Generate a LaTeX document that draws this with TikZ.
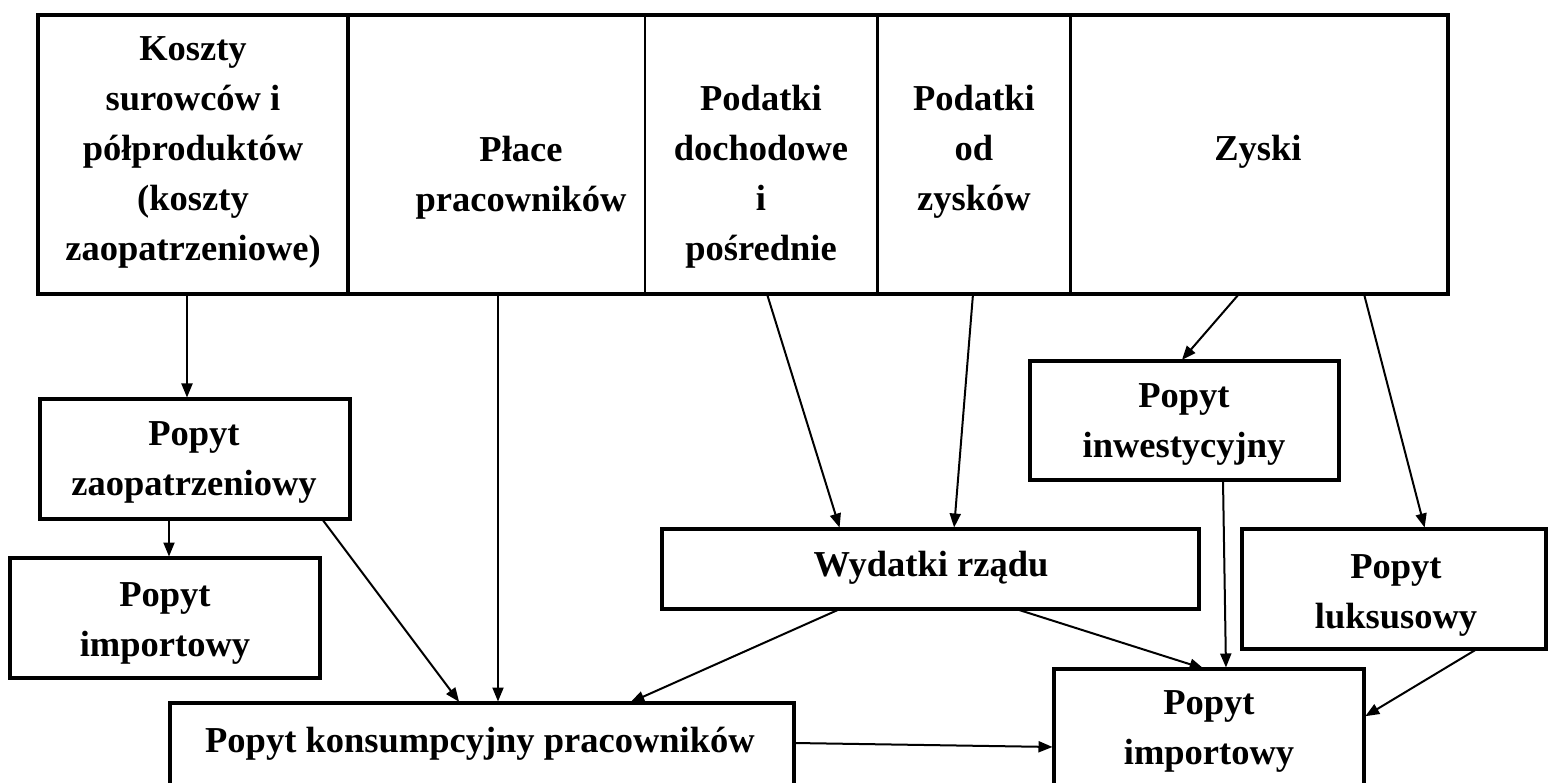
\documentclass[tikz,border=0pt]{standalone}
\usepackage{fontspec}
\setmainfont{Liberation Serif}
\usetikzlibrary{arrows.meta}
\begin{document}
\begin{tikzpicture}[x=1pt,y=-1pt,
  cell/.style={rectangle, inner sep=0pt, outer sep=0pt},
  box/.style={cell, draw, line width=3.5pt},
  txt/.style={align=center, inner sep=0pt,
    font=\fontsize{36.5}{50}\selectfont\bfseries},
  link/.style={line width=2pt, -{Triangle[length=14pt,width=11pt]}, shorten >=1.5pt}]
\useasboundingbox (0,0) rectangle (1548,783);
\fill[white] (0,0) rectangle (1548,783);
\clip (0,0) rectangle (1548,783);

% top row: cost and income components
\node[cell, minimum width=310pt, minimum height=279pt] (koszty) at (193,154.5) {};
\node[cell, minimum width=297pt, minimum height=279pt] (place)  at (496.5,154.5) {};
\node[cell, minimum width=232pt, minimum height=279pt] (podd)   at (761,154.5) {};
\node[cell, minimum width=193pt, minimum height=279pt] (podz)   at (973.5,154.5) {};
\node[cell, minimum width=378pt, minimum height=279pt] (zyski)  at (1259,154.5) {};
\draw[line width=3.5pt] (koszty.north west) rectangle (zyski.south east);
\draw[line width=4pt]   (koszty.north east) -- (koszty.south east);
\draw[line width=1.5pt] (place.north east) -- (place.south east);
\draw[line width=3pt]   (podd.north east) -- (podd.south east);
\draw[line width=3pt]   (podz.north east) -- (podz.south east);

\node[txt] (koszty-t) at (193,152) {Koszty\\surowców i\\półproduktów\\(koszty\\zaopatrzeniowe)};
\node[txt] (place-t)  at (521,178) {Płace\\pracowników};
\node[txt] (podd-t)   at (761,177) {Podatki\\dochodowe\\i\\pośrednie};
\node[txt] (podz-t)   at (974,152) {Podatki\\od\\zysków};
\node[txt] (zyski-t)  at (1258,152) {Zyski};

% demand boxes
\node[box, minimum width=310pt, minimum height=120pt] (zaop) at (195,459) {};
\node[txt] at (194,462) {Popyt\\zaopatrzeniowy};
\node[box, minimum width=310pt, minimum height=120pt] (impL) at (165,618) {};
\node[txt] at (165,623) {Popyt\\importowy};
\node[box, minimum width=624pt, minimum height=117pt] (kons) at (482,761.5) {};
\node[txt] at (480,744) {Popyt konsumpcyjny pracowników};
\node[box, minimum width=537pt, minimum height=80pt] (wyd) at (930.5,569) {};
\node[txt] at (931,568) {Wydatki rządu};
\node[box, minimum width=309pt, minimum height=119pt] (inw) at (1184.5,420.5) {};
\node[txt] at (1184,424) {Popyt\\inwestycyjny};
\node[box, minimum width=304pt, minimum height=120pt] (luks) at (1394,589) {};
\node[txt] at (1396,595) {Popyt\\luksusowy};
\node[box, minimum width=310pt, minimum height=151pt] (impR) at (1209,744.5) {};
\node[txt] at (1209,731) {Popyt\\importowy};

% flows
\draw[link] ([xshift=-6pt]koszty.south) -- ([xshift=-8pt]zaop.north);
\draw[link] ([xshift=1.5pt]place.south) -- ([xshift=16pt]kons.north);
\draw[link] ([xshift=-26pt]zaop.south) -- ([xshift=4pt]impL.north);
\draw[link] ([xshift=127pt]zaop.south) -- ([xshift=-22pt]kons.north);
\draw[link] ([xshift=6pt]podd.south) -- ([xshift=-90.5pt]wyd.north);
\draw[link] ([xshift=-0.5pt]podz.south) -- ([xshift=23.5pt]wyd.north);
\draw[link] ([xshift=-20pt]zyski.south) -- ([xshift=-3.5pt]inw.north);
\draw[link] ([xshift=105pt]zyski.south) -- ([xshift=31pt]luks.north);
\draw[link] ([xshift=-90.5pt]wyd.south) -- ([xshift=147pt]kons.north);
\draw[link] ([xshift=85.5pt]wyd.south) -- ([xshift=-4pt]impR.north);
\draw[link] ([xshift=38.5pt]inw.south) -- ([xshift=17pt]impR.north);
\draw[link] ([xshift=83pt]luks.south) -- ([yshift=27.5pt]impR.east);
\draw[link] ([yshift=18.5pt]kons.east) -- ([yshift=-2.5pt]impR.west);
\end{tikzpicture}
\end{document}
